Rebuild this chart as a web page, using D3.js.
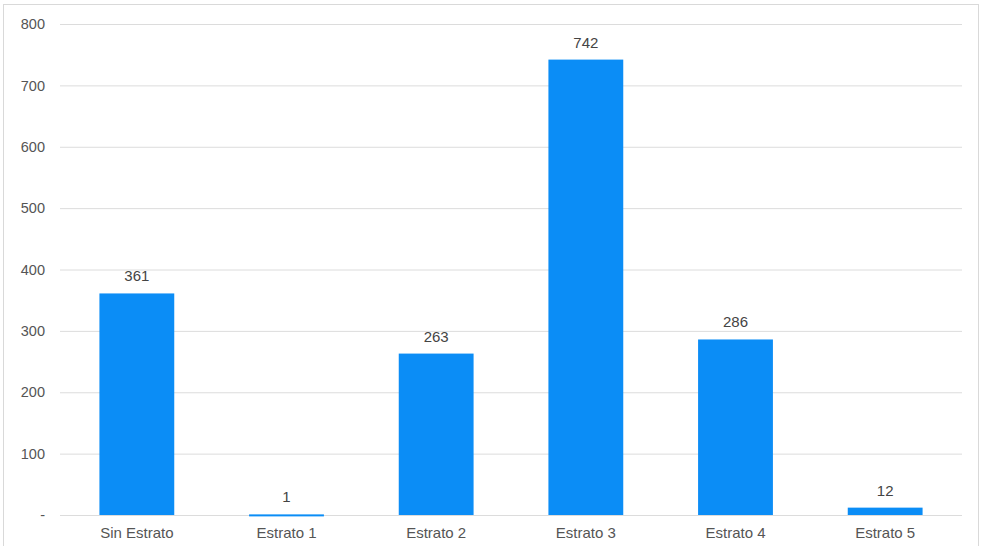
<!DOCTYPE html>
<html>
<head>
<meta charset="utf-8">
<script src="https://cdn.jsdelivr.net/npm/d3@7"></script>
<style>
  body { margin: 0; background: #fff; }
  text { font-family: "Liberation Sans", Arial, sans-serif; }
</style>
</head>
<body>
<svg id="chart"></svg>
<script>
const categories = ["Sin Estrato", "Estrato 1", "Estrato 2", "Estrato 3", "Estrato 4", "Estrato 5"];
const values = [361, 1, 263, 742, 286, 12];
const yTicks = [0, 100, 200, 300, 400, 500, 600, 700, 800];

const width = 981;
const height = 546;
const marginTop = 24;
const marginRight = 21;
const marginBottom = 31;
const marginLeft = 62;

const svg = d3.select("#chart")
    .attr("width", width)
    .attr("height", height);

// outer frame
svg.append("rect")
    .attr("x", 3.5).attr("y", 4.5)
    .attr("width", 975).attr("height", 560)
    .attr("fill", "none")
    .attr("stroke", "#d9d9d9");

const x = d3.scaleBand()
    .domain(categories)
    .range([marginLeft, width - marginRight])
    .paddingInner(0.5)
    .paddingOuter(0.25);

const y = d3.scaleLinear()
    .domain([0, 800])
    .range([height - marginBottom, marginTop]);

// gridlines + y labels
const yAxis = svg.append("g")
    .attr("transform", `translate(${marginLeft - 2},0)`)
    .call(d3.axisLeft(y)
      .tickValues(yTicks)
      .tickSize(-(width - marginRight - marginLeft + 4))
      .tickPadding(15)
      .tickFormat(d => d === 0 ? "-" : d));
yAxis.select(".domain").remove();
yAxis.selectAll(".tick line").attr("stroke", "#dcdcdc");
yAxis.selectAll(".tick text")
    .attr("fill", "#555")
    .attr("font-size", 14.5);

// bars
svg.append("g")
    .selectAll("rect")
    .data(values)
    .join("rect")
      .attr("x", (d, i) => x(categories[i]))
      .attr("y", d => y(d))
      .attr("width", x.bandwidth())
      .attr("height", d => Math.max(2, y(0) - y(d)))
      .attr("fill", "#0b8df6");

// value labels
svg.append("g")
    .selectAll("text")
    .data(values)
    .join("text")
      .attr("x", (d, i) => x(categories[i]) + x.bandwidth() / 2)
      .attr("y", d => y(d) - 12)
      .attr("text-anchor", "middle")
      .attr("fill", "#444")
      .attr("font-size", 15)
      .text(d => d);

// x labels
const xAxis = svg.append("g")
    .attr("transform", `translate(0,${height - marginBottom})`)
    .call(d3.axisBottom(x).tickSize(0).tickPadding(12));
xAxis.select(".domain").remove();
xAxis.selectAll(".tick text")
    .attr("fill", "#555")
    .attr("font-size", 15);
</script>
</body>
</html>
